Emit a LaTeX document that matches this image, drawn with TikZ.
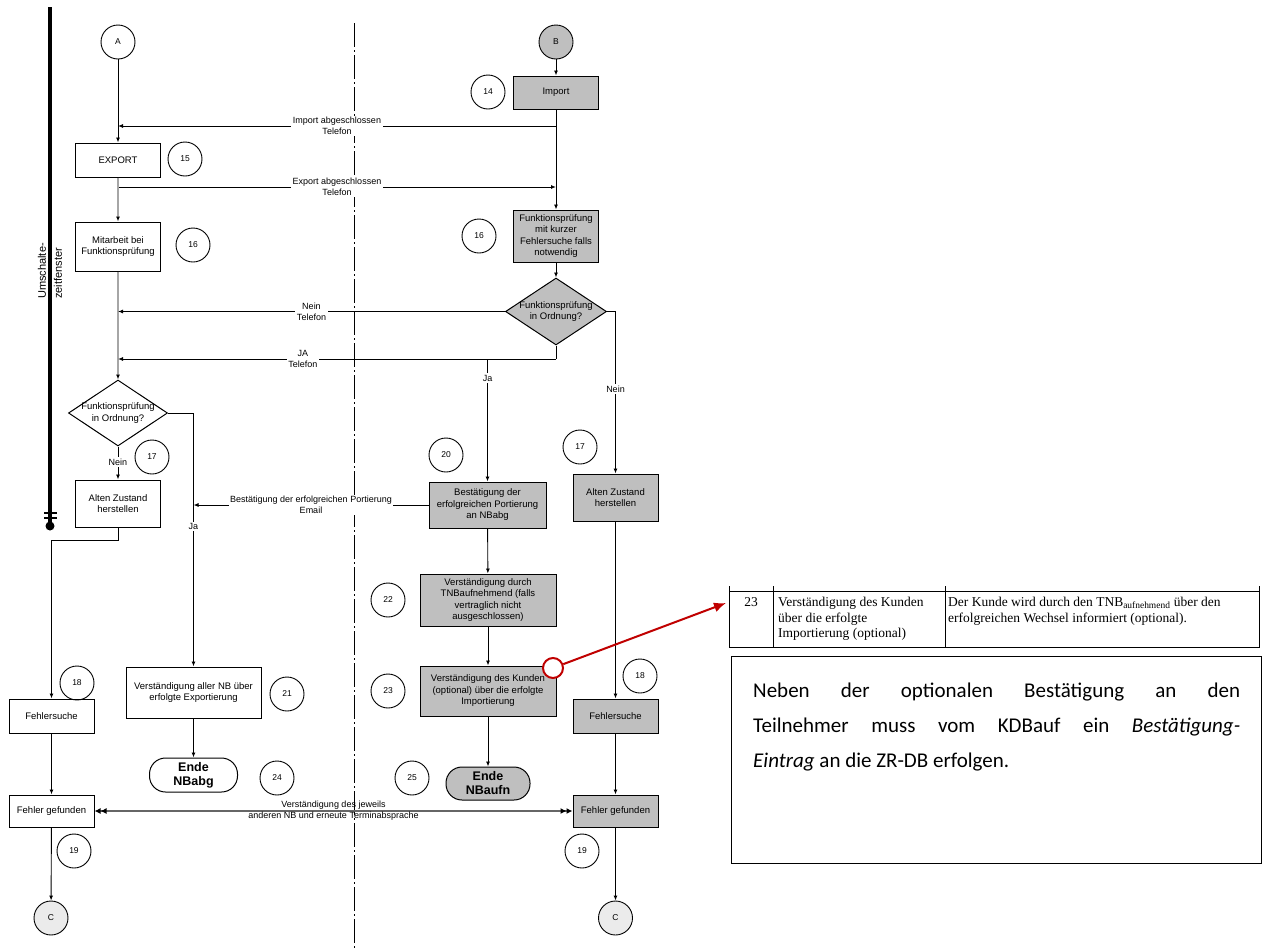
\documentclass[tikz,border=0pt]{standalone}
\usepackage{fontspec}
\setmainfont{Liberation Sans}
\newfontfamily\serifft{Liberation Serif}
\newfontfamily\notefont{Carlito}
\usetikzlibrary{arrows.meta,shapes.geometric}
\definecolor{darkred}{HTML}{C00000}
\newcommand\flowfs{\fontsize{9.5}{11.5}\selectfont}
\newcommand\lblfs{\fontsize{9}{11}\selectfont}
\newcommand\numfs{\fontsize{8.5}{9}\selectfont}
\newcommand\terminfs{\fontsize{12.5}{14}\selectfont\bfseries}
\newcommand\tblfs{\serifft\fontsize{13.5}{15.5}\selectfont}
\newcommand\notefs{\notefont\fontsize{21}{35}\selectfont}
\begin{document}
\begin{tikzpicture}[x=1pt,y=-1pt,
  ln/.style={line width=0.9pt},
  arr/.style={ln,-{Latex[length=5pt,width=4pt]}},
  garr/.style={line width=1.3pt,draw=black!35,-{Latex[length=5pt,width=4pt,color=black]}},
  dbl/.style={line width=1.4pt,draw=black!60,{Latex[length=6pt,width=6pt,color=black]Latex[length=6pt,width=6pt,color=black]}-{Latex[length=6pt,width=6pt,color=black]Latex[length=6pt,width=6pt,color=black]}},
  box/.style={draw,line width=1pt,minimum width=85pt,inner sep=1pt,align=center,font=\flowfs},
  gbox/.style={box,fill=black!25},
  num/.style={circle,draw,line width=0.9pt,minimum size=34pt,inner sep=0pt,font=\numfs},
  lbl/.style={fill=white,inner sep=1.5pt,align=center,font=\lblfs},
  dec/.style={diamond,draw,line width=1pt,minimum width=99pt,minimum height=66pt,inner sep=0pt},
  endbox/.style={draw,line width=1pt,rounded corners=16pt,minimum width=88pt,minimum height=34pt,inner sep=0pt,align=center,font=\terminfs},
  tbl/.style={line width=0.9pt}
]
\useasboundingbox (0,0) rectangle (1270,951);

% swimlane markers
\draw[line width=3.5pt] (50,7) -- (50,526);
\draw[line width=1.5pt] (44,513) -- (57,513) (44,518) -- (57,518);
\fill (50,526) circle (4.5);
\node[rotate=90,align=left,inner sep=0pt,font=\fontsize{11}{16}\selectfont] (umsch) at (50,271) {Umschalte-\\zeitfenster};
\draw[line width=1pt,dash pattern=on 24pt off 3pt on 2pt off 3pt] (354,23) -- (354,951);

% left column nodes
\node[num,fill=white] (A) at (118,42) {A};
\node[box,minimum height=34pt] (export) at (118,160) {EXPORT};
\node[num] (n15) at (185,159) {15};
\node[box,minimum height=49pt] (mit) at (118,246.5) {Mitarbeit bei\\Funktionsprüfung};
\node[num] (n16L) at (193,245) {16};
\node[dec,label={[font=\flowfs,align=center]center:Funktionsprüfung\\in Ordnung?}] (dL) at (118,413) {};
\node[box,minimum height=47pt] (b17L) at (118,503.5) {Alten Zustand\\herstellen};
\node[num] (n17L) at (152,457) {17};
\node[box,minimum height=34pt] (fsL) at (51.5,716) {Fehlersuche};
\node[num] (n18L) at (77,683) {18};
\node[box,minimum height=32pt] (fgL) at (51.5,811) {Fehler gefunden};
\node[num] (n19L) at (74,851) {19};
\node[num,fill=black!8] (CL) at (51,918) {C};
\node[box,minimum width=135pt,minimum height=51pt] (b21) at (193.5,692.5) {Verständigung aller NB über\\erfolgte Exportierung};
\node[num] (n21) at (287,694) {21};
\node[endbox] (endL) at (193.5,775) {Ende\\NBabg};
\node[num] (n24) at (277,778) {24};

% right column nodes
\node[num,fill=black!25] (B) at (556,42) {B};
\node[gbox,minimum height=33pt] (imp) at (556,92.5) {Import};
\node[num] (n14) at (488,92) {14};
\node[gbox,minimum height=52pt] (fkt) at (556,236) {Funktionsprüfung\\mit kurzer\\Fehlersuche falls\\notwendig};
\node[num] (n16R) at (479,236) {16};
\node[dec,fill=black!25,minimum width=101pt,minimum height=67pt,label={[font=\flowfs,align=center]center:Funktionsprüfung\\in Ordnung?}] (dR) at (556,311.5) {};
\node[gbox,minimum width=117pt,minimum height=46pt] (b20) at (487.5,505) {Bestätigung der\\erfolgreichen Portierung\\an NBabg};
\node[num] (n20) at (446,455) {20};
\node[gbox,minimum height=47pt] (b17R) at (615.5,497.5) {Alten Zustand\\herstellen};
\node[num] (n17R) at (580,447) {17};
\node[gbox,minimum width=136pt,minimum height=52pt] (b22) at (488,600) {Verständigung durch\\TNBaufnehmend (falls\\vertraglich nicht\\ausgeschlossen)};
\node[num] (n22) at (388,600) {22};
\node[gbox,minimum width=136pt,minimum height=50pt] (b23) at (488,691) {Verständigung des Kunden\\(optional) über die erfolgte\\Importierung};
\node[num] (n23) at (388,691) {23};
\node[endbox,fill=black!25,minimum width=84pt,minimum height=33pt] (endR) at (488,783.5) {Ende\\NBaufn};
\node[num] (n25) at (412,778) {25};
\node[gbox,minimum height=34pt] (fsR) at (615.5,716) {Fehlersuche};
\node[num] (n18R) at (640,676) {18};
\node[gbox,minimum height=32pt] (fgR) at (615.5,811) {Fehler gefunden};
\node[num] (n19R) at (582,851) {19};
\node[num,fill=black!8] (CR) at (615.5,918) {C};

% junction coordinates
\coordinate (impL) at (118,126);
\coordinate (impR) at (556,126);
\coordinate (expL) at (118,187);
\coordinate (expR) at (556,187);
\coordinate (jaL) at (118,359);
\coordinate (jaR) at (556,359);
\coordinate (jaJ) at (487.5,359);

% connectors
\draw[arr] (A) -- (export);
\draw[arr] (B) -- (imp);
\draw[arr] (imp) -- (fkt);
\draw[arr] (impR) -- node[lbl]{Import abgeschlossen\\Telefon} (impL);
\draw[arr] (expL) -- node[lbl]{Export abgeschlossen\\Telefon} (expR);
\draw[garr] (export) -- (mit);
\draw[garr] (mit) -- (dL);
\draw[arr] (fkt) -- (dR);
\draw[arr] (dR.west) -- node[lbl]{Nein\\Telefon} (dR.west -| mit.south);
\draw[ln] (dR.south) -- (jaR);
\draw[arr] (jaR) -- node[lbl,pos=0.578]{JA\\Telefon} (jaL);
\draw[arr] (jaJ) -- node[lbl,pos=0.155]{Ja} (b20);
\draw[arr] (dR.east) -| node[lbl,pos=0.74]{Nein} (b17R);
\draw[arr] (dL.east) -| node[lbl,pos=0.724]{Ja} (b21);
\draw[arr] (b20.west) -- node[lbl]{Bestätigung der erfolgreichen Portierung\\Email} (b20.west -| b21.north);
\draw[arr] (dL) -- node[lbl,pos=0.47]{Nein} (b17L);
\draw[arr] (b17L.south) -- ++(0,13) -| (fsL.north);
\draw[arr] (fsL) -- (fgL);
\draw[arr] (fgL) -- (CL);
\draw[arr] (b21) -- (endL);
\draw[arr] (b20) -- (b22);
\draw[arr] (b22) -- (b23);
\draw[arr] (b23) -- (endR);
\draw[arr] (b17R) -- (fsR);
\draw[arr] (fsR) -- (fgR);
\draw[arr] (fgR) -- (CR);
\draw[dbl] (fgL) -- node[align=center,inner sep=0pt,font=\lblfs]{Verständigung des jeweils\\anderen NB und erneute Terminabsprache} (fgR);

% table excerpt
\draw[tbl] (729,586) -- (729,648) (773,586) -- (773,648) (945,586) -- (945,648) (1259,586) -- (1259,648);
\draw[tbl] (729,591) -- (1259,591) (729,647) -- (1259,647);
\node[anchor=north,inner sep=0pt,font=\tblfs] (t1) at (751,597) {23};
\node[anchor=north west,inner sep=0pt,align=left,font=\tblfs] (t2) at (778,597) {Verständigung des Kunden\\über die erfolgte\\Importierung (optional)};
\node[anchor=north west,inner sep=0pt,align=left,font=\tblfs] (t3) at (948,597) {Der Kunde wird durch den TNB\textsubscript{aufnehmend} über den\\erfolgreichen Wechsel informiert (optional).};

% callout
\node[circle,draw=darkred,line width=2pt,fill=white,minimum size=20pt,inner sep=0pt] (rc) at (553,668) {};
\coordinate (tblL) at (726,603);
\draw[darkred,line width=2pt,-{Latex[length=12pt,width=10pt]}] (rc) -- (tblL);

% note box
\node[draw,line width=1pt,minimum width=530pt,minimum height=207pt,anchor=north west,inner sep=0pt] (note) at (731,656) {};
\node[anchor=north west,inner sep=0pt,text width=487pt,align=justify,font=\notefs] (notetxt) at (753,683) {Neben der optionalen Bestätigung an den\linebreak Teilnehmer muss vom KDBauf ein \textit{Bestätigung-}\linebreak \textit{Eintrag} an die ZR-DB erfolgen.};
\end{tikzpicture}
\end{document}
